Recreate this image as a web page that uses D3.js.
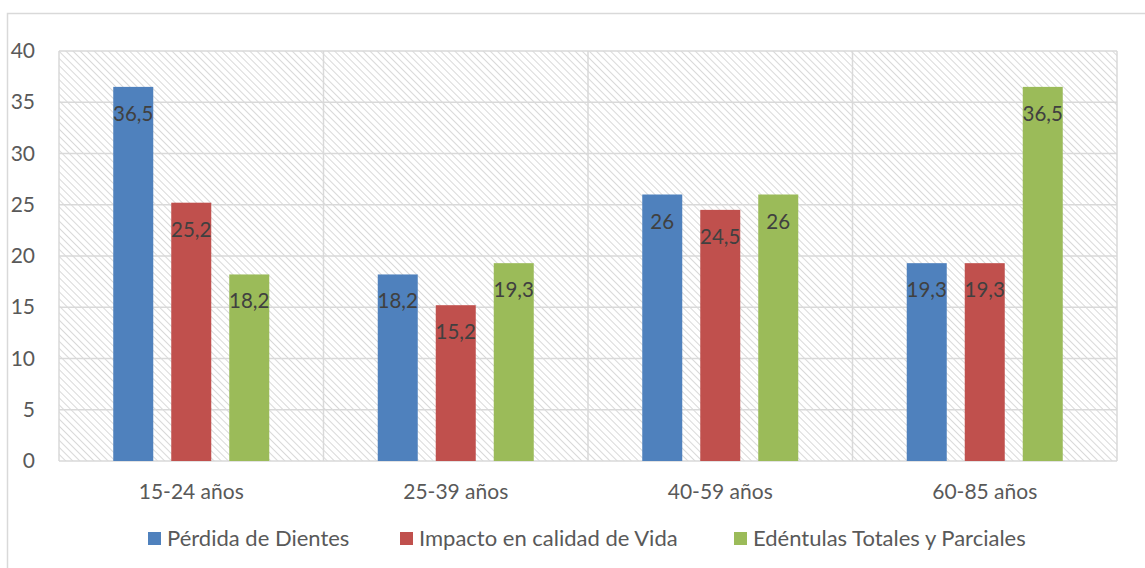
<!DOCTYPE html>
<meta charset="utf-8">
<style>
body { margin: 0; background: #fff; }
svg text { font-family: Lato, "Open Sans", sans-serif; }
.tick text { fill: #595959; font-size: 21px; }
.label { fill: #404040; font-size: 20.5px; }
.legend text { fill: #595959; font-size: 22px; }
</style>
<body>
<script src="https://cdn.jsdelivr.net/npm/d3@7/dist/d3.min.js"></script>
<script>

var categories = ["15-24 años", "25-39 años", "40-59 años", "60-85 años"];
var series = ["Pérdida de Dientes", "Impacto en calidad de Vida", "Edéntulas Totales y Parciales"];
var perdida = [36.5, 18.2, 26, 19.3];
var impacto = [25.2, 15.2, 24.5, 19.3];
var edentulas = [18.2, 19.3, 26, 36.5];
var yTicks = [0, 5, 10, 15, 20, 25, 30, 35, 40];
var colors = ["#4f81bd", "#c0504d", "#9bbb59"];

var values = [perdida, impacto, edentulas];

var W = 1145, H = 568;
var plot = {left: 59, top: 51, right: 1117, bottom: 461};

var svg = d3.select("body").append("svg")
    .attr("width", W)
    .attr("height", H);

// hatch pattern for the plot area
var defs = svg.append("defs");
var pat = defs.append("pattern")
    .attr("id", "hatch")
    .attr("patternUnits", "userSpaceOnUse")
    .attr("width", 5)
    .attr("height", 5)
    .attr("patternTransform", "rotate(-45)");
pat.append("rect").attr("width", 5).attr("height", 5).attr("fill", "#fff");
pat.append("line")
    .attr("x1", 0).attr("y1", 0).attr("x2", 0).attr("y2", 5)
    .attr("stroke", "#d9d9d9").attr("stroke-width", 2);

// outer chart border
svg.append("rect")
    .attr("x", 7.5).attr("y", 13.5)
    .attr("width", W + 10).attr("height", H + 10)
    .attr("fill", "none")
    .attr("stroke", "#d9d9d9")
    .attr("stroke-width", 1.5);

var x = d3.scaleBand()
    .domain(categories)
    .range([plot.left, plot.right]);

var x1 = d3.scaleBand()
    .domain(series)
    .range([0, x.bandwidth()])
    .paddingInner(18 / 58)
    .paddingOuter((x.bandwidth() - 3 * 58 + 18) / 2 / 58);

var y = d3.scaleLinear()
    .domain([0, 40])
    .range([plot.bottom, plot.top]);

svg.append("rect")
    .attr("x", plot.left).attr("y", plot.top)
    .attr("width", plot.right - plot.left)
    .attr("height", plot.bottom - plot.top)
    .attr("fill", "url(#hatch)");

// gridlines
svg.append("g")
  .selectAll("line")
  .data(yTicks)
  .enter().append("line")
    .attr("x1", plot.left).attr("x2", plot.right)
    .attr("y1", function(d) { return y(d); })
    .attr("y2", function(d) { return y(d); })
    .attr("stroke", "#d9d9d9")
    .attr("stroke-width", 1.5);

var bounds = categories.map(function(c) { return x(c); }).concat([plot.right]);
svg.append("g")
  .selectAll("line")
  .data(bounds)
  .enter().append("line")
    .attr("x1", function(d) { return d; })
    .attr("x2", function(d) { return d; })
    .attr("y1", plot.top).attr("y2", plot.bottom)
    .attr("stroke", "#d9d9d9")
    .attr("stroke-width", 1.5);

// y axis labels
var yAxis = svg.append("g")
    .attr("transform", "translate(" + (plot.left - 24) + ",0)")
    .call(d3.axisLeft(y).tickValues(yTicks).tickSize(0).tickPadding(0));
yAxis.select(".domain").remove();
yAxis.selectAll("text").attr("font-family", null);

// x axis labels
var xAxis = svg.append("g")
    .attr("transform", "translate(0," + (plot.bottom + 23) + ")")
    .call(d3.axisBottom(x).tickSize(0).tickPadding(0));
xAxis.select(".domain").remove();
xAxis.selectAll("text").attr("font-family", null);

// bars
var groups = svg.append("g")
  .selectAll("g")
  .data(series)
  .enter().append("g")
    .attr("fill", function(d, i) { return colors[i]; });

groups.selectAll("rect")
  .data(function(s, i) { return values[i].map(function(v, j) { return {s: s, c: categories[j], v: v}; }); })
  .enter().append("rect")
    .attr("x", function(d) { return x(d.c) + x1(d.s); })
    .attr("y", function(d) { return y(d.v); })
    .attr("width", x1.bandwidth())
    .attr("height", function(d) { return y(0) - y(d.v); });

groups.selectAll("text")
  .data(function(s, i) { return values[i].map(function(v, j) { return {s: s, c: categories[j], v: v}; }); })
  .enter().append("text")
    .attr("class", "label")
    .attr("text-anchor", "middle")
    .attr("x", function(d) { return x(d.c) + x1(d.s) + x1.bandwidth() / 2; })
    .attr("y", function(d) { return y(d.v) + 34; })
    .text(function(d) { return String(d.v).replace(".", ","); });

// legend
var legendX = [148, 400, 734];
var legend = svg.append("g").attr("class", "legend")
  .selectAll("g")
  .data(series)
  .enter().append("g")
    .attr("transform", function(d, i) { return "translate(" + legendX[i] + ",532)"; });
legend.append("rect")
    .attr("width", 13).attr("height", 13)
    .attr("fill", function(d, i) { return colors[i]; });
legend.append("text")
    .attr("x", 19).attr("y", 14)
    .text(function(d) { return d; });

</script>
